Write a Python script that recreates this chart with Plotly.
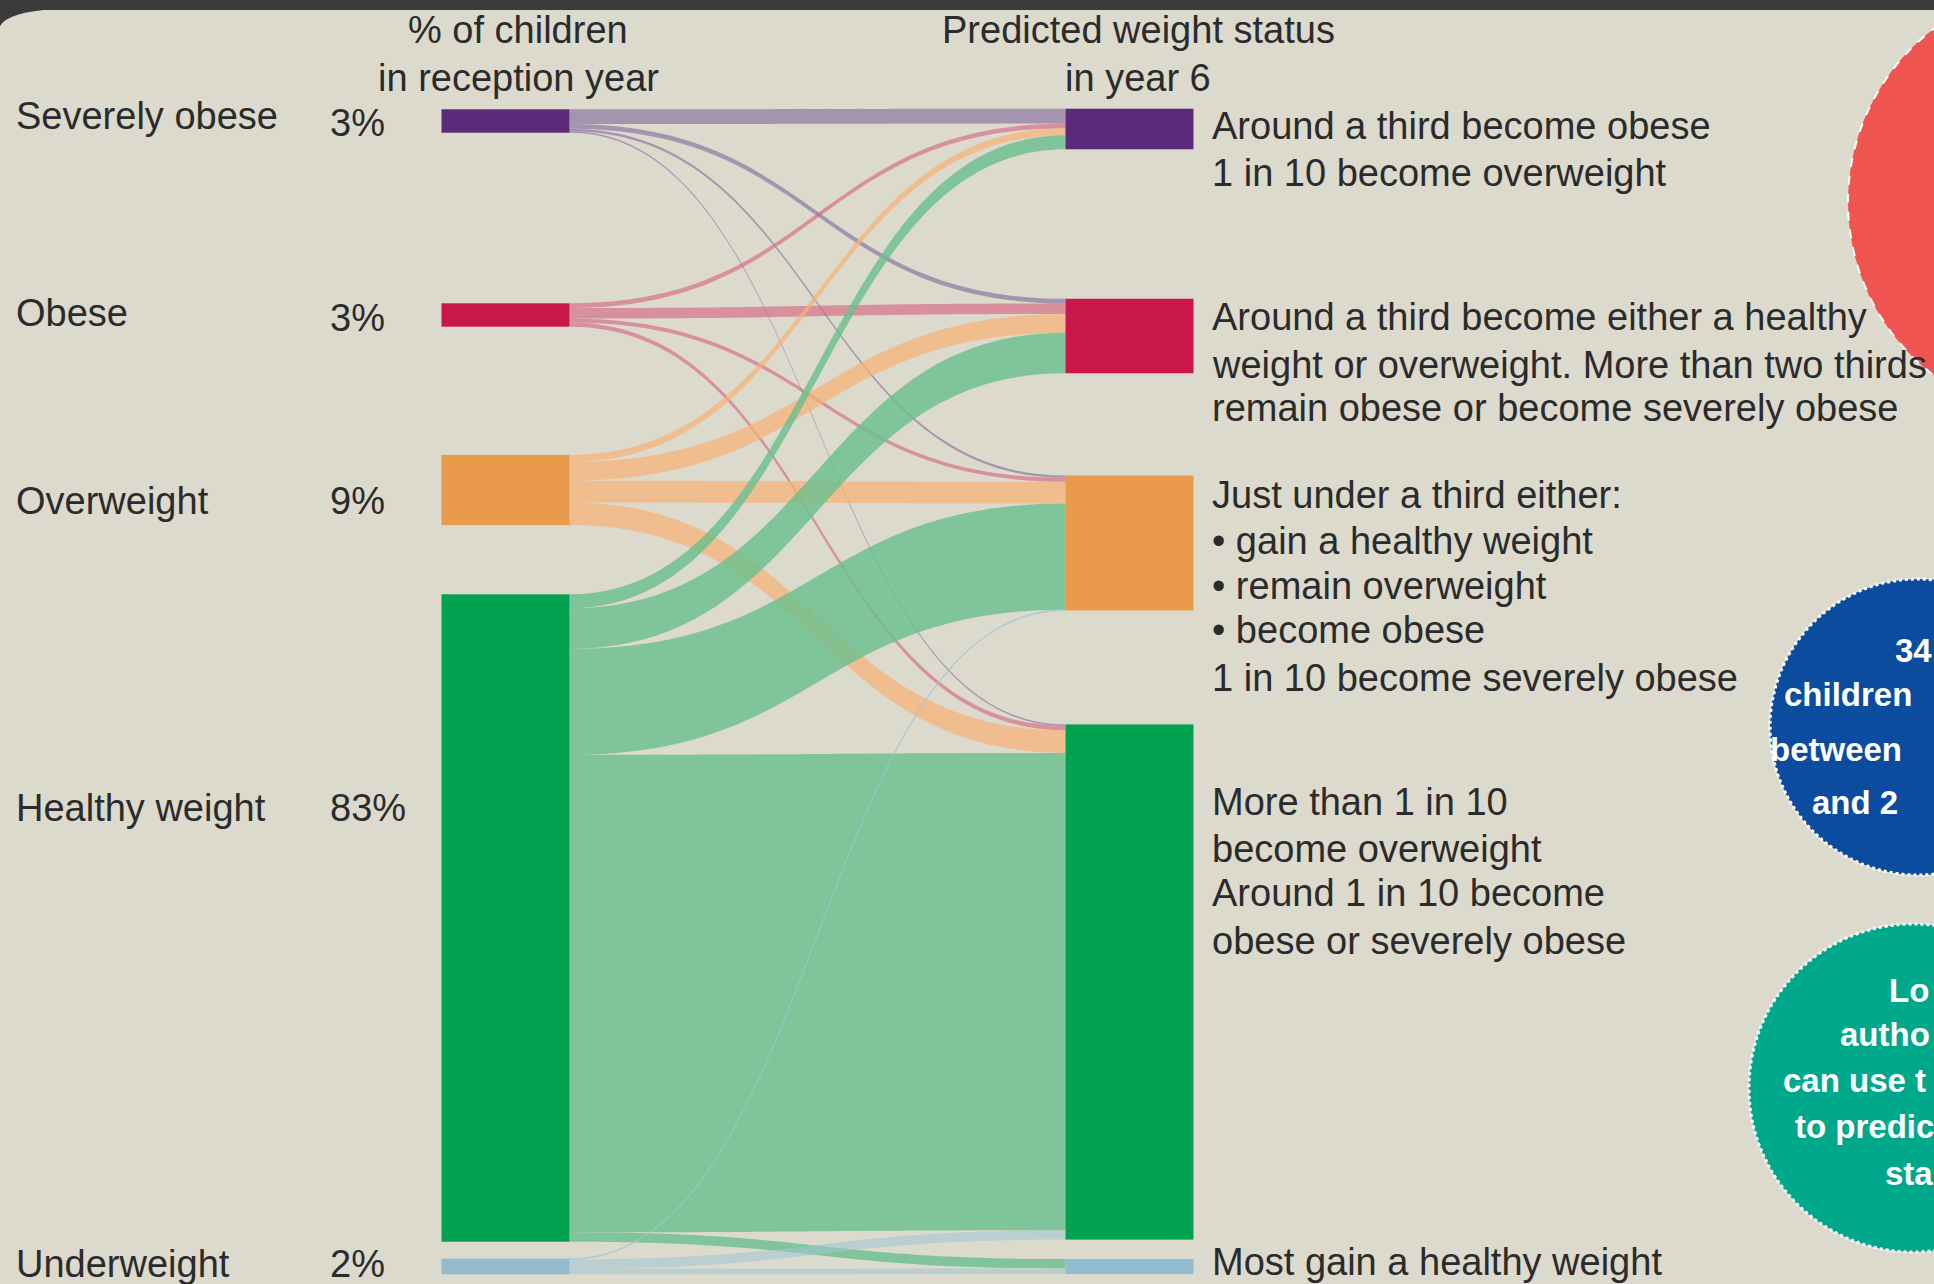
import plotly.graph_objects as go

W, H = 1934, 1284

# ---------------- data ----------------
categories = ["Severely obese", "Obese", "Overweight", "Healthy weight", "Underweight"]
reception_pct_labels = ["3%", "3%", "9%", "83%", "2%"]

# flows as % of all children: reception status -> predicted year 6 status
# (order of targets follows `categories`)
flows_from_severely_obese = [1.9, 0.6, 0.3, 0.2, 0.0]
flows_from_obese = [0.6, 1.35, 0.5, 0.55, 0.0]
flows_from_overweight = [0.9, 2.4, 2.8, 2.9, 0.0]
flows_from_healthy = [1.8, 5.2, 13.6, 61.2, 1.2]
flows_from_underweight = [0.0, 0.0, 0.1, 1.2, 0.7]

header_left = ["% of children", "in reception year"]
header_right = ["Predicted weight status", "in year 6"]

outcome_text = [
    ["Around a third become obese", "1 in 10 become overweight"],
    ["Around a third become either a healthy",
     "weight or overweight. More than two thirds",
     "remain obese or become severely obese"],
    ["Just under a third either:", "\u2022 gain a healthy weight", "\u2022 remain overweight",
     "\u2022 become obese", "1 in 10 become severely obese"],
    ["More than 1 in 10", "become overweight", "Around 1 in 10 become", "obese or severely obese"],
    ["Most gain a healthy weight"],
]

blue_bubble_text = ["34", "children", "between", "and 2"]
teal_bubble_text = ["Lo", "autho", "can use t", "to predic", "sta"]

# ---------------- styles ----------------
BG = "#dcd9cd"
TEXT = "#2b2b2b"
FONT = "Arial, 'Liberation Sans', sans-serif"
node_colors = ["#5b2a78", "#c9174b", "#e99a4b", "#00a24f", "#93bbcf"]
link_colors = ["rgba(135,110,160,0.65)", "rgba(215,95,125,0.6)",
               "rgba(246,178,118,0.72)", "rgba(105,191,141,0.8)",
               "rgba(160,196,212,0.55)"]

flow_rows = [flows_from_severely_obese, flows_from_obese, flows_from_overweight,
             flows_from_healthy, flows_from_underweight]

n = len(categories)
src, tgt, val, lcol = [], [], [], []
for i, row in enumerate(flow_rows):
    for j, v in enumerate(row):
        if v > 0:
            src.append(i)
            tgt.append(n + j)
            val.append(v)
            lcol.append(link_colors[i])

# node centre positions (pixels) -> fractions of the sankey domain
left_cx, right_cx = 505.5, 1129.5
left_cy = [121, 315, 490, 918, 1266.5]
right_cy = [129, 336, 543, 982, 1266.5]
node_x = [left_cx / W] * n + [right_cx / W] * n
node_y = [c / H for c in left_cy] + [c / H for c in right_cy]

fig = go.Figure(go.Sankey(
    arrangement="fixed",
    domain=dict(x=[0, 1], y=[0, 1]),
    node=dict(
        label=categories + categories,
        x=node_x, y=node_y,
        color=node_colors + node_colors,
        thickness=128, pad=126,
        line=dict(width=0),
    ),
    link=dict(source=src, target=tgt, value=val, color=lcol,
              line=dict(width=0)),
    textfont=dict(size=1, color="rgba(0,0,0,0)"),
    hoverinfo="none",
))


def px(x):
    return x / W


def py(y):
    return 1 - y / H


ann = []


def text(x, y, s, anchor="left", size=38, color=TEXT, bold=False):
    ann.append(dict(x=px(x), y=py(y), xref="paper", yref="paper",
                    text=f"<b>{s}</b>" if bold else s, showarrow=False,
                    xanchor=anchor, yanchor="middle",
                    font=dict(size=size, color=color, family=FONT)))


# left labels
label_y = [116, 313, 501, 808, 1264]
pct_y = [123, 318, 501, 808, 1264]
for lab, yy in zip(categories, label_y):
    text(14, yy, lab)
for lab, yy in zip(reception_pct_labels, pct_y):
    text(328, yy, lab)

# headers
text(518, 30, header_left[0], anchor="center")
text(518, 78, header_left[1], anchor="center")
text(1138, 30, header_right[0], anchor="center")
text(1138, 78, header_right[1], anchor="center")

# outcome descriptions
outcome_y = [[126, 173], [317, 365, 408], [495, 541, 586, 630, 678],
             [802, 849, 893, 941], [1262]]
for lines, ys in zip(outcome_text, outcome_y):
    for s, yy in zip(lines, ys):
        text(1210, yy, s)

shapes = []
# bubbles on the right
shapes.append(dict(type="circle", xref="paper", yref="paper",
                   x0=px(2066 - 218), x1=px(2066 + 218), y0=py(202 + 218), y1=py(202 - 218),
                   fillcolor="#f05450", line=dict(color="white", width=2, dash="dash")))
shapes.append(dict(type="circle", xref="paper", yref="paper",
                   x0=px(1918 - 148), x1=px(1918 + 148), y0=py(727 + 148), y1=py(727 - 148),
                   fillcolor="#0c4c9f", line=dict(color="white", width=3, dash="dot")))
shapes.append(dict(type="circle", xref="paper", yref="paper",
                   x0=px(1913 - 164), x1=px(1913 + 164), y0=py(1088 + 164), y1=py(1088 - 164),
                   fillcolor="#00a88b", line=dict(color="white", width=3, dash="dot")))
# dark frame at top and rounded corner
shapes.append(dict(type="rect", xref="paper", yref="paper",
                   x0=0, x1=1, y0=py(10), y1=1.01, fillcolor="#3b3b3b", line=dict(width=0)))
shapes.append(dict(type="path", xref="paper", yref="paper",
                   path=f"M 0,{py(9)} L 0,{py(26)} Q {px(8)},{py(12)} {px(55)},{py(9)} Z",
                   fillcolor="#3b3b3b", line=dict(width=0)))

blue_pos = [(1893, 650), (1782, 694), (1768, 749), (1810, 802)]
for s, (xx, yy) in zip(blue_bubble_text, blue_pos):
    text(xx, yy, s, size=33, color="white", bold=True)
teal_pos = [(1887, 990), (1838, 1034), (1781, 1080), (1793, 1126), (1883, 1173)]
for s, (xx, yy) in zip(teal_bubble_text, teal_pos):
    text(xx, yy, s, size=33, color="white", bold=True)

fig.update_layout(
    width=W, height=H,
    margin=dict(l=0, r=0, t=0, b=0),
    paper_bgcolor=BG, plot_bgcolor=BG,
    annotations=ann, shapes=shapes,
    font=dict(family=FONT, color=TEXT),
)

fig.write_html("out.html")
